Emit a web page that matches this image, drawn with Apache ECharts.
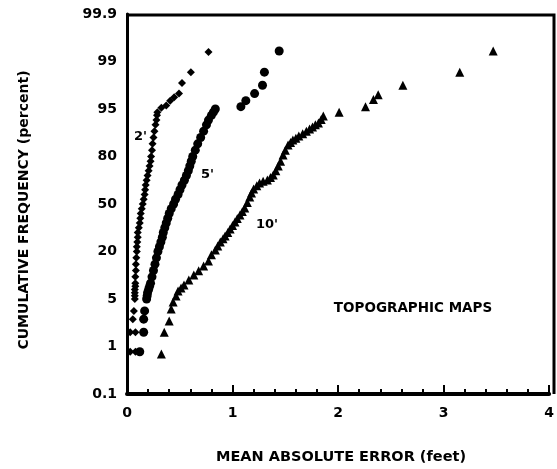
<!DOCTYPE html>
<html>
<head>
<meta charset="utf-8">
<script src="https://cdn.jsdelivr.net/npm/echarts@6/dist/echarts.min.js"></script>
<style>
  html, body { margin: 0; padding: 0; background: #fff; }
  #chart { width: 557px; height: 469px; }
</style>
</head>
<body>
<div id="chart"></div>
<script>
// probability-style y axis: labels sit at equal steps
const yTickValues = [0.1, 1, 5, 20, 50, 80, 95, 99, 99.9];
const yTickLabels = ["0.1", "1", "5", "20", "50", "80", "95", "99", "99.9"];

// 2 ft contour interval (diamonds)
const ci2X = [0.03, 0.08, 0.03, 0.08, 0.055,
  0.065, 0.074, 0.074, 0.074, 0.074, 0.079, 0.079, 0.079, 0.084, 0.084,
  0.088, 0.093, 0.093, 0.098, 0.102, 0.102, 0.112, 0.121, 0.126, 0.13,
  0.14, 0.149, 0.158, 0.167, 0.172, 0.177, 0.186, 0.195, 0.205, 0.214,
  0.223, 0.228, 0.237, 0.242, 0.251, 0.26, 0.27, 0.279, 0.284, 0.288,
  0.326, 0.372, 0.409, 0.447, 0.493, 0.521, 0.605, 0.772];
const ci2Pct = [0.9, 0.9, 2.2, 2.2, 3.3,
  4, 5, 6, 7, 8, 9, 10, 12, 14, 16,
  18, 20, 23, 26, 29, 32, 35, 38, 41, 44,
  47, 50, 53, 56, 59, 62, 65, 68, 71, 74,
  77, 80, 82, 84, 86, 88, 90, 91.5, 93, 94,
  95.1, 95.3, 95.7, 96.0, 96.3, 97.2, 98.1, 99.18];

// 5 ft contour interval (circles)
const ci5X = [0.121, 0.158, 0.158,
  0.167, 0.186, 0.191, 0.195, 0.205, 0.214, 0.223, 0.237, 0.251, 0.265,
  0.279, 0.293, 0.307, 0.321, 0.335, 0.344, 0.358, 0.372, 0.386, 0.4,
  0.419, 0.442, 0.46, 0.484, 0.502, 0.521, 0.544, 0.563, 0.581, 0.595,
  0.609, 0.623, 0.647, 0.67, 0.698, 0.726, 0.753, 0.772, 0.8, 0.819, 0.837,
  1.079, 1.126, 1.209, 1.284, 1.302, 1.442];
const ci5Pct = [0.9, 2.2, 3.3,
  4, 5, 6, 7, 8, 9, 10, 12, 14, 16,
  18, 20, 23, 26, 29, 32, 35, 38, 41, 44,
  47, 50, 53, 56, 59, 62, 65, 68, 71, 74,
  77, 80, 82, 84, 86, 88, 90, 91.5, 93, 94, 95,
  95.2, 95.7, 96.3, 97.0, 98.1, 99.2];

// 10 ft contour interval (triangles)
const ci10X = [0.326, 0.353, 0.40, 0.419, 0.437, 0.465, 0.484, 0.512, 0.54,
  0.586, 0.633, 0.679, 0.726, 0.772, 0.80, 0.837, 0.86, 0.884, 0.91, 0.93,
  0.955, 0.977, 1.0, 1.023, 1.045, 1.07, 1.093, 1.116, 1.14, 1.163, 1.18,
  1.2, 1.23, 1.256, 1.29, 1.33, 1.36, 1.386, 1.41, 1.433, 1.455, 1.479,
  1.5, 1.526, 1.55, 1.572, 1.60, 1.628, 1.665, 1.70, 1.73, 1.758, 1.785,
  1.814, 1.84, 1.86, 2.01, 2.26, 2.335, 2.38, 2.614, 3.153, 3.47];
const ci10Pct = [0.86, 2.2, 3.15, 4.16, 4.75, 5.95, 7.5, 8.5, 9.4,
  11, 12.6, 13.9, 15.4, 17, 19, 21, 23.5, 26, 28, 29.8,
  32, 34.2, 36.4, 38.6, 40.8, 43, 45.2, 47.5, 51, 54.4, 57,
  59.5, 61.5, 63.3, 64.3, 65.2, 66.7, 68.3, 71, 74, 77, 80.5,
  82, 83.6, 84.4, 85.2, 85.8, 86.5, 87.2, 88, 88.7, 89.3, 90,
  90.6, 91.7, 92.8, 94, 95.2, 95.8, 96.2, 97.0, 98.1, 99.2];

function pctToPos(p) {
  for (let i = 0; i < yTickValues.length - 1; i++) {
    if (p <= yTickValues[i + 1]) {
      return i + (p - yTickValues[i]) / (yTickValues[i + 1] - yTickValues[i]);
    }
  }
  return yTickValues.length - 1;
}

function pairs(xs, ps) {
  var out = [];
  for (var i = 0; i < xs.length; i++) {
    out.push([xs[i], pctToPos(ps[i])]);
  }
  return out;
}

const font = "DejaVu Sans";
const myChart = echarts.init(document.getElementById("chart"));

var option = {
  animation: false,
  grid: {
    left: 127,
    top: 14,
    right: -1,
    bottom: 75,
  },
  xAxis: {
    type: "value",
    min: 0,
    max: 4,
    interval: 1,
    axisLine: { lineStyle: { color: "#000", width: 4 } },
    axisTick: { inside: true, length: 9, lineStyle: { color: "#000", width: 2 } },
    minorTick: { show: true, splitNumber: 5, length: 5, lineStyle: { color: "#000", width: 2 } },
    splitLine: { show: false },
    axisLabel: { color: "#000", fontFamily: font, fontWeight: "bold", fontSize: 14, margin: 12 },
  },
  yAxis: {
    type: "value",
    min: 0,
    max: 8,
    interval: 1,
    axisLine: { show: true, lineStyle: { color: "#000", width: 3 } },
    axisTick: { show: false },
    splitLine: { show: false },
    axisLabel: {
      color: "#000",
      fontFamily: font,
      fontWeight: "bold",
      fontSize: 14,
      margin: 10,
      formatter: function (v) {
        return yTickLabels[Math.round(v)];
      },
    },
  },
  graphic: [
    // top and right edges of the frame
    {
      type: "polyline",
      shape: { points: [[126, 15], [554, 15], [554, 394]] },
      style: { stroke: "#000", lineWidth: 3, fill: null },
    },
    {
      type: "text",
      x: 341, y: 457,
      style: { text: "MEAN ABSOLUTE ERROR (feet)", fill: "#000", font: "bold 14.5px " + font,
        textAlign: "center", textVerticalAlign: "middle" },
    },
    {
      type: "text",
      x: 24, y: 210, rotation: Math.PI / 2,
      style: { text: "CUMULATIVE FREQUENCY (percent)", fill: "#000", font: "bold 14px " + font,
        textAlign: "center", textVerticalAlign: "middle" },
    },
    {
      type: "text",
      x: 413, y: 308,
      style: { text: "TOPOGRAPHIC MAPS", fill: "#000", font: "bold 13.5px " + font,
        textAlign: "center", textVerticalAlign: "middle" },
    },
    { type: "text", left: 134, top: 130, style: { text: "2'", fill: "#000", font: "bold 13px " + font } },
    { type: "text", left: 201, top: 168, style: { text: "5'", fill: "#000", font: "bold 13px " + font } },
    { type: "text", left: 256, top: 218, style: { text: "10'", fill: "#000", font: "bold 13px " + font } },
  ],
  series: [
    {
      name: "2'",
      type: "scatter",
      symbol: "diamond",
      symbolSize: 8,
      itemStyle: { color: "#000", opacity: 1 },
      data: pairs(ci2X, ci2Pct),
    },
    {
      name: "5'",
      type: "scatter",
      symbol: "circle",
      symbolSize: 9,
      itemStyle: { color: "#000", opacity: 1 },
      data: pairs(ci5X, ci5Pct),
    },
    {
      name: "10'",
      type: "scatter",
      symbol: "triangle",
      symbolSize: 9,
      itemStyle: { color: "#000", opacity: 1 },
      data: pairs(ci10X, ci10Pct),
    },
  ],
};
myChart.setOption(option);
</script>
</body>
</html>
